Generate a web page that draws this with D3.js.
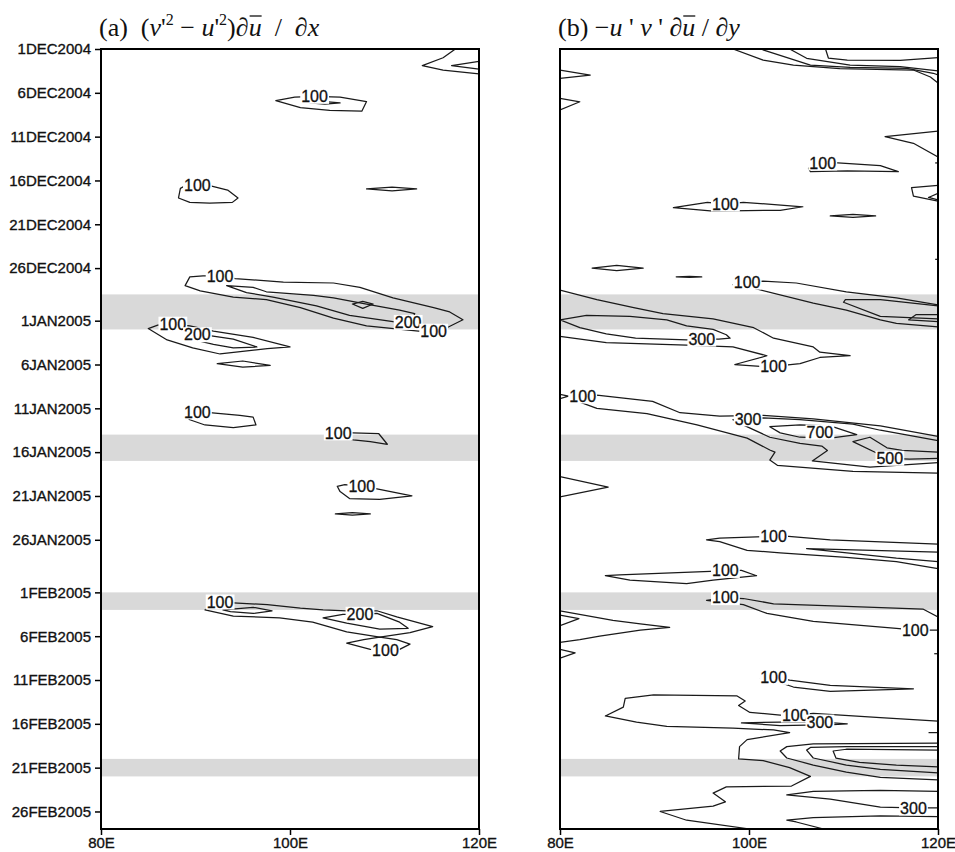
<!DOCTYPE html>
<html>
<head>
<meta charset="utf-8">
<script src="https://cdn.jsdelivr.net/npm/d3@7"></script>
<style>
  body { margin: 0; background: #fff; }
  svg { display: block; }
</style>
</head>
<body>
<div id="chart"></div>
<script>
// ---- data ----
// longitudes (deg E) and dates; contour points are [lon, days since 1DEC2004]
const lonTicks = [80, 100, 120];
const lonTickLabels = ["80E", "100E", "120E"];
const dateTickLabels = [
  "1DEC2004", "6DEC2004", "11DEC2004", "16DEC2004", "21DEC2004", "26DEC2004",
  "1JAN2005", "6JAN2005", "11JAN2005", "16JAN2005", "21JAN2005", "26JAN2005",
  "1FEB2005", "6FEB2005", "11FEB2005", "16FEB2005", "21FEB2005", "26FEB2005"
];
const dateEnd = "28FEB2005";
const bandStart = ["29DEC2004", "14JAN2005", "1FEB2005", "20FEB2005"];
const bandEnd   = ["2JAN2005", "17JAN2005", "3FEB2005", "22FEB2005"];

// (a) (v'^2 - u'^2) du/dx
const openA = [
  [[117.5,0],[116.2,1.0],[114.0,1.9],[116.2,2.4],[120,2.85]],
  [[120,1.4],[117.1,1.9],[120,2.3]]
];
const loopsA = [
  [[98.5,5.9],[100.5,5.5],[102.6,5.4],[105.3,5.5],[108.1,6.0],[107.6,7.1],[104.2,7.0],[101.1,6.7]],
  [[102.1,6.15],[103.7,6.0],[105.3,6.15],[103.7,6.3]],
  [[88.2,17.0],[88.4,15.9],[88.9,15.6],[90.2,15.5],[91.5,15.6],[93.4,16.1],[94.5,17.0],[93.9,17.5],[91.5,17.6],[89.4,17.5]],
  [[108.1,15.97],[110.8,15.75],[113.4,15.97],[110.8,16.2]],
  [[88.9,27.0],[89.4,26.0],[90.8,25.9],[92.6,25.9],[94.2,26.2],[99.3,26.6],[104.6,26.7],[107.4,27.2],[110.9,28.4],[115.2,29.5],[116.9,30.0],[118.3,30.9],[116.6,31.8],[115.2,32.2],[113.6,32.2],[108.1,31.6],[104.6,30.7],[101.1,29.5],[97.5,28.6],[94.0,28.3],[90.5,27.6]],
  [[93.3,27.0],[96.1,27.2],[97.5,27.7],[102.5,28.1],[104.6,28.4],[108.1,29.1],[111.6,29.8],[113.2,30.2],[112.9,30.8],[112.5,31.2],[110.9,31.1],[106.3,30.4],[102.8,29.3],[98.2,28.3],[95.4,27.8]],
  [[106.6,29.1],[107.7,28.8],[108.8,29.1],[107.7,29.6]],
  [[85.0,31.9],[86.0,31.5],[87.6,31.4],[89.4,31.6],[91.9,32.2],[96.1,32.9],[100,34.0],[97.6,34.2],[92.6,34.8],[89.7,34.1],[87.0,33.2]],
  [[88.9,32.7],[90.2,32.6],[91.5,32.7],[94.0,33.1],[96.5,34.0],[94.0,34.1],[91.9,33.7],[89.9,33.2]],
  [[92.3,35.9],[95.0,35.6],[97.9,36.1],[95.0,36.3]],
  [[89.0,41.9],[90.2,41.4],[91.5,41.5],[94.7,41.8],[96.1,42.0],[96.4,42.9],[94.0,43.2],[91.0,42.9],[89.4,42.3]],
  [[103.9,43.9],[105.1,43.8],[106.6,43.8],[109.4,43.9],[110.3,45.1],[108.5,44.8],[106.7,44.6],[104.8,44.2]],
  [[105.0,49.9],[105.8,49.7],[107.6,49.9],[109.2,50.2],[112.9,51.0],[109.5,51.4],[106.3,51.3],[105.3,50.5]],
  [[104.8,53.05],[106.6,52.9],[108.5,53.05],[106.6,53.2]],
  [[91.0,64.0],[91.9,63.3],[92.6,63.1],[94.0,63.2],[97.6,63.4],[101.1,63.8],[103.5,64.0],[106.0,64.1],[109.2,64.1],[111.3,64.8],[115.1,65.9],[112.7,66.6],[109.5,67.1],[106.0,66.5],[102.4,65.4],[98.9,64.9],[94.0,64.7]],
  [[103.5,64.9],[105.6,64.5],[107.4,64.5],[109.2,64.4],[111.6,65.4],[112.5,66.1],[109.5,66.2],[106.0,65.5]],
  [[92.9,64.0],[96.1,63.7],[98.1,64.1],[96.1,64.4],[93.7,64.2]],
  [[106.0,67.8],[107.8,67.4],[109.5,67.1],[111.3,67.4],[112.7,67.9],[111.6,68.5],[110.1,68.6],[108.5,68.5]]
];
const labelsA = [
  ["100",102.6,5.4], ["100",90.2,15.5], ["100",92.6,25.9], ["200",112.5,31.2],
  ["100",115.2,32.2], ["100",87.6,31.4], ["200",90.2,32.6], ["100",90.2,41.4],
  ["100",105.1,43.8], ["100",107.6,49.9], ["100",92.6,63.1], ["200",107.4,64.5],
  ["100",110.1,68.6]
];

// (b) -u'v' du/dy
const openB = [
  [[98.3,0],[101.5,1.26],[104.7,1.83],[109.6,2.25],[117.4,2.4],[119.2,3.19],[120,3.88]],
  [[101.2,0],[106.5,1.83],[110.7,2.1],[116.7,2.2],[119.5,2.77],[120,2.97]],
  [[104.3,0],[106.1,1.06],[110.7,1.83],[116.0,2.02],[120,2.51]],
  [[108.1,0],[108.4,1.03],[110.4,1.26],[116.0,1.31],[120,0.99]],
  [[80,2.4],[83.2,2.97],[80,3.35]],
  [[80,5.63],[82.1,6.02],[80,6.96]],
  [[120,9.36],[114.4,10.0],[117.4,10.76],[120,12.32]],
  [[120,13.0],[119.7,13.0]],
  [[120,15.56],[117.2,15.82],[117.4,16.78],[120,17.35]],
  [[120,16.48],[119.0,16.94],[120,17.23]],
  [[120,24.0],[119.7,24.0]],
  [[120,29.2],[115.6,28.4],[110.3,27.7],[105.0,26.7],[101.5,26.5],[99.8,26.6],[98.3,26.9],[100.5,27.3],[106.8,29.0],[110.3,29.8],[113.9,30.9],[115.6,31.3],[120,31.7]],
  [[120,29.3],[113.9,28.6],[110.2,28.6],[110.0,28.9],[113.9,30.5],[120,30.8]],
  [[120,30.3],[117.7,30.3],[116.9,30.9],[120,31.1]],
  [[80,27.5],[83.9,28.6],[87.8,29.5],[90.9,30.2],[96.2,30.8],[100.5,31.8],[102.6,33.0],[106.8,34.0],[107.5,34.6],[110.7,35.0],[107.5,35.2],[105.4,35.9],[102.6,36.2],[101.2,36.2],[98.5,36.0],[101.9,35.0],[98.3,34.0],[96.2,33.9],[93.4,33.8],[84.9,33.5],[80,32.8]],
  [[120,44.2],[113.9,43.0],[106.8,42.2],[101.5,41.8],[96.9,41.9],[92.7,41.5],[89.8,40.2],[83.9,39.5],[82.4,39.6],[81.5,39.9],[82.1,40.3],[83.9,41.0],[89.2,41.6],[94.5,42.9],[99.8,44.4],[102.2,45.75],[102.75,46.0],[102.2,46.9],[103.0,47.5],[111.0,48.2],[120,48.4]],
  [[80,39.4],[80.9,39.6],[80,39.9]],
  [[120,44.7],[113.9,43.5],[111.0,42.8],[105.4,42.3],[101.5,42.1],[99.9,42.2],[98.3,42.3],[99.6,43.0],[102.2,44.3],[105.4,45.0],[107.7,45.3],[108.3,45.8],[106.7,47.0],[112.8,47.7],[120,47.2]],
  [[120,46.0],[116.2,45.8],[114.6,45.5],[112.8,44.3],[111.0,44.8],[113.5,46.1],[114.9,46.7],[117.0,46.8],[120,46.7]],
  [[80,48.8],[85.1,50.0],[80,51.1]],
  [[120,56.5],[108.6,56.0],[104.2,55.6],[102.6,55.6],[96.9,55.8],[95.5,56.0],[96.9,56.2],[99.8,57.2],[103.3,57.5],[110.3,58.0],[115.6,58.5],[120,59.3]],
  [[120,57.4],[106.1,57.0],[115.6,58.1],[120,58.5]],
  [[120,64.8],[118.4,63.9],[110.3,63.6],[102.6,63.3],[99.4,62.7],[97.5,62.6],[95.5,62.9],[99.4,63.4],[101.9,64.4],[106.8,65.3],[115.6,66.1],[117.6,66.3],[120,66.3]],
  [[80,64.1],[85.6,65.2],[88.5,65.6],[91.6,66.0],[88.5,66.3],[84.2,67.0],[82.1,67.4],[80,67.7]],
  [[80,64.6],[82.0,65.0],[80,65.8]],
  [[80,68.5],[81.6,68.9],[80,69.5]],
  [[120,69.0],[119.6,69.0]],
  [[120,76.7],[113.9,76.3],[106.8,75.8],[104.9,76.0],[103.3,76.0],[100.1,75.7],[98.9,74.9],[99.6,74.4],[98.7,73.8],[89.9,73.7],[86.9,74.1],[86.7,75.1],[84.8,76.1],[88.1,76.8],[91.3,77.3],[98.3,77.5],[102.6,77.7],[104.3,78.0],[99.8,78.8],[99.0,79.6],[98.9,81.0],[101.5,81.2],[104.3,82.0],[106.5,83.0],[104.5,84.1],[97.6,84.2],[96.2,84.9],[97.5,85.9],[96.2,86.4],[90.6,87.0],[93.4,88.0],[100.1,89.0]],
  [[120,78.0],[119.0,78.0]],
  [[120,79.2],[106.8,79.3],[104.0,79.6],[103.3,80.1],[104.0,80.9],[106.8,81.7],[110.3,82.5],[113.9,83.1],[120,83.4]],
  [[120,79.6],[110.3,79.6],[106.5,79.7],[106.1,80.0],[106.8,80.9],[110.3,81.7],[113.9,82.2],[120,82.6]],
  [[120,80.0],[110.3,79.9],[108.9,80.1],[109.2,80.9],[111.7,81.4],[115.6,81.7],[120,81.9]],
  [[120,84.7],[113.9,84.6],[106.8,84.7],[104.0,85.1],[108.6,85.6],[113.9,86.5],[117.4,86.6],[120,86.6]],
  [[120,87.6],[113.9,87.5],[106.8,87.7],[104.0,88.0],[105.0,88.2],[107.9,89.0]]
];
const loopsB = [
  [[106.3,13.6],[107.8,13.0],[109.4,13.0],[113.9,13.3],[115.8,14.0],[110.4,13.9],[106.5,14.0]],
  [[92.0,18.1],[95.6,17.5],[97.5,17.7],[99.4,17.5],[105.7,18.0],[103.3,18.4],[96.2,18.5]],
  [[108.6,19.05],[111.0,18.88],[113.4,19.05],[111.0,19.22]],
  [[83.4,25.0],[86.0,24.7],[88.8,25.0],[86.0,25.3]],
  [[92.3,26.0],[93.7,25.95],[95.0,26.0],[93.7,26.05]],
  [[80,30.9],[82.8,30.4],[87.4,30.5],[91.3,30.9],[93.4,31.6],[96.2,32.0],[97.6,32.6],[98.0,33.0],[96.8,33.1],[95.0,33.1],[93.4,33.2],[88.0,33.0],[84.9,32.5],[82.1,31.8]],
  [[102.2,43.1],[105.4,42.9],[108.6,43.0],[111.4,44.0],[108.6,44.4],[105.4,44.3],[103.3,43.8]],
  [[84.8,60.1],[86.3,60.0],[95.9,59.6],[97.5,59.5],[99.2,59.5],[100.8,60.1],[96.2,60.6],[93.4,61.0],[87.4,60.6]],
  [[101.2,71.8],[102.6,71.7],[104.3,72.0],[108.6,72.6],[117.4,73.0],[108.6,73.3],[104.7,72.8],[103.3,72.3]],
  [[99.2,76.9],[103.3,76.8],[107.5,76.8],[108.9,76.9],[110.4,77.0],[108.9,77.1],[103.3,77.2]]
];
const labelsB = [
  ["100",107.8,13.0], ["100",97.5,17.7], ["100",99.8,26.6], ["300",95.0,33.1],
  ["100",102.6,36.2], ["100",82.4,39.6], ["300",99.9,42.2], ["700",107.5,43.7],
  ["500",114.9,46.7], ["100",102.6,55.6], ["100",97.5,59.5], ["100",97.5,62.6],
  ["100",117.6,66.3], ["100",102.6,71.7], ["100",104.9,76.0], ["300",107.5,76.8],
  ["300",117.4,86.6]
];

// ---- layout ----
const W = 955, H = 852;
const plotTop = 49, plotBottom = 829, plotW = 378;
const sans = "'Liberation Sans', Arial, Helvetica, sans-serif";
const serif = "'Liberation Serif', 'Times New Roman', serif";

const parseDate = d3.utcParse("%d%b%Y");
const t0 = parseDate(dateTickLabels[0]);
const toDate = d => new Date(t0.getTime() + d * 864e5);

const y = d3.scaleUtc()
  .domain([t0, parseDate(dateEnd)])
  .range([plotTop, plotBottom]);

const svg = d3.select("#chart").append("svg")
  .attr("width", W)
  .attr("height", H);

// title pieces: [text, flags]  i = italic, s = superscript, o = overline
const titleA = [["(a)\u2002(", ""], ["v", "i"], ["'", ""], ["2", "s"], [" \u2212 ", ""], ["u", "i"], ["'", ""], ["2", "s"], [")\u2202", ""], ["u", "io"], ["\u2002/\u2002\u2202", ""], ["x", "i"]];
const titleB = [["(b) \u2212", ""], ["u", "i"], [" ' ", ""], ["v", "i"], [" ' ", ""], ["\u2202", ""], ["u", "io"], [" / \u2202", ""], ["y", "i"]];

const panels = [
  { x0: 101, open: openA, loops: loopsA, labels: labelsA, title: titleA, yAxis: true },
  { x0: 560, open: openB, loops: loopsB, labels: labelsB, title: titleB, yAxis: false }
];

panels.forEach((p, i) => {
  const x = d3.scaleLinear().domain([80, 120]).range([p.x0, p.x0 + plotW]);
  const g = svg.append("g");

  svg.append("clipPath").attr("id", "clip" + i)
    .append("rect")
    .attr("x", x(80)).attr("y", plotTop)
    .attr("width", plotW).attr("height", plotBottom - plotTop);

  // shaded periods
  g.selectAll("rect.band")
    .data(bandStart.map((s, k) => [parseDate(s), parseDate(bandEnd[k])]))
    .join("rect")
    .attr("class", "band")
    .attr("x", x(80))
    .attr("width", plotW)
    .attr("y", d => y(d[0]))
    .attr("height", d => y(d[1]) - y(d[0]))
    .attr("fill", "#d9d9d9");

  // contours
  const lineOpen = d3.line().x(d => x(d[0])).y(d => y(toDate(d[1])));
  const lineLoop = d3.line().x(d => x(d[0])).y(d => y(toDate(d[1]))).curve(d3.curveLinearClosed);

  const cg = g.append("g")
    .attr("clip-path", `url(#clip${i})`)
    .attr("fill", "none")
    .attr("stroke", "#1a1a1a")
    .attr("stroke-width", 1.25)
    .attr("stroke-linejoin", "round");

  cg.selectAll("path.open").data(p.open).join("path").attr("class", "open").attr("d", lineOpen);
  cg.selectAll("path.loop").data(p.loops).join("path").attr("class", "loop").attr("d", lineLoop);

  // contour labels on white boxes
  const lg = g.selectAll("g.clab")
    .data(p.labels)
    .join("g")
    .attr("class", "clab")
    .attr("transform", d => `translate(${x(d[1])},${y(toDate(d[2]))})`);

  lg.append("rect").attr("fill", "#fff");
  lg.append("text")
    .attr("text-anchor", "middle")
    .attr("dy", "0.36em")
    .style("font", `16px ${sans}`)
    .attr("fill", "#111")
    .attr("stroke", "#111")
    .attr("stroke-width", 0.3)
    .text(d => d[0]);
  lg.each(function () {
    const b = d3.select(this).select("text").node().getBBox();
    d3.select(this).select("rect")
      .attr("x", b.x - 1).attr("y", -7.5)
      .attr("width", b.width + 2).attr("height", 15);
  });

  // frame
  g.append("rect")
    .attr("x", x(80)).attr("y", plotTop)
    .attr("width", plotW).attr("height", plotBottom - plotTop)
    .attr("fill", "none")
    .attr("stroke", "#000")
    .attr("stroke-width", 2);

  // x axis
  const xa = g.append("g")
    .attr("transform", `translate(0,${plotBottom})`)
    .call(d3.axisBottom(x).tickValues(lonTicks).tickFormat((d, k) => lonTickLabels[k]).tickSize(6).tickPadding(2));
  xa.select(".domain").remove();
  xa.selectAll("line").attr("stroke", "#000").attr("stroke-width", 1.5);
  xa.selectAll("text").style("font", `15px ${sans}`).attr("fill", "#111")
    .attr("stroke", "#111").attr("stroke-width", 0.35);

  // y axis (left panel only)
  if (p.yAxis) {
    const ya = g.append("g")
      .attr("transform", `translate(${x(80)},0)`)
      .call(d3.axisLeft(y).tickValues(dateTickLabels.map(parseDate)).tickFormat((d, k) => dateTickLabels[k]).tickSize(6).tickPadding(4));
    ya.select(".domain").remove();
    ya.selectAll("line").attr("stroke", "#000").attr("stroke-width", 1.5);
    ya.selectAll("text").style("font", `15px ${sans}`).attr("fill", "#111")
      .attr("stroke", "#111").attr("stroke-width", 0.35);
  }

  // title
  const tt = svg.append("text")
    .attr("x", p.x0 - 2)
    .attr("y", 36)
    .style("font", `26px ${serif}`)
    .attr("fill", "#111");
  let raised = false;
  p.title.forEach(([s, f]) => {
    const ts = tt.append("tspan").text(s);
    if (f.includes("i")) ts.style("font-style", "italic");
    if (f.includes("s")) {
      ts.style("font-size", "16px").attr("dy", -11);
      raised = true;
    } else if (raised) {
      ts.attr("dy", 11);
      raised = false;
    }
    if (f.includes("o")) ts.attr("data-over", 1);
  });
  tt.selectAll("tspan[data-over]").each(function () {
    const sx = this.getStartPositionOfChar(0).x;
    const len = this.getComputedTextLength();
    svg.append("line")
      .attr("x1", sx + 1).attr("x2", sx + len)
      .attr("y1", 16).attr("y2", 16)
      .attr("stroke", "#111").attr("stroke-width", 1.3);
  });
});
</script>
</body>
</html>
